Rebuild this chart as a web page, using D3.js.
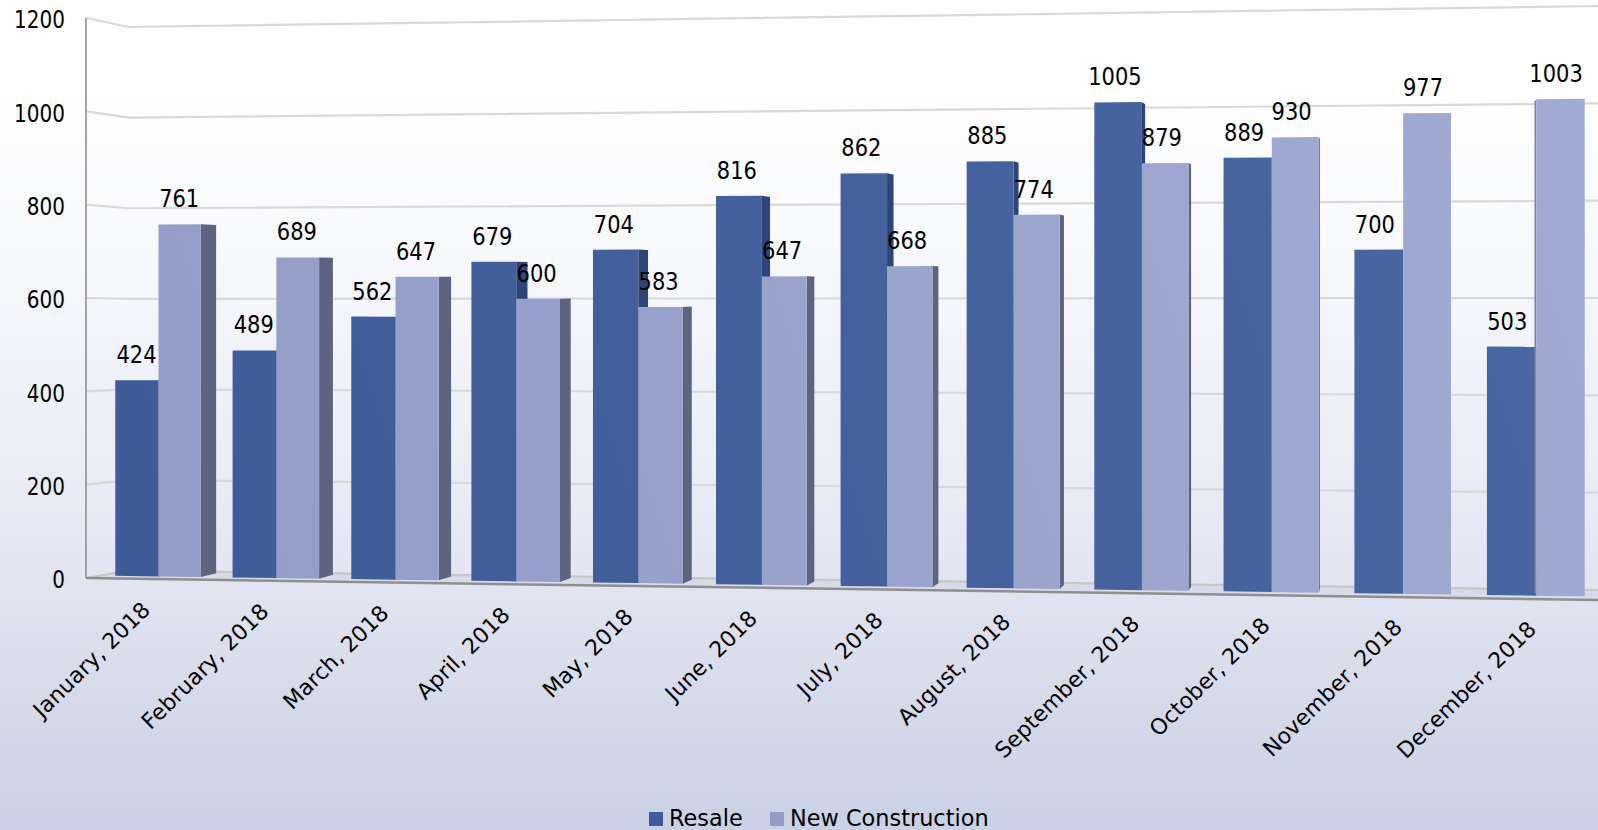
<!DOCTYPE html>
<html><head><meta charset="utf-8">
<style>html,body{margin:0;padding:0;background:#fff;overflow:hidden}svg{display:block}text{font-family:"DejaVu Sans",sans-serif;fill:#000}</style>
<script src="https://cdn.jsdelivr.net/npm/d3@7"></script>
</head><body><svg id="c" width="1598" height="830"></svg>
<script>
const months = ["January, 2018","February, 2018","March, 2018","April, 2018","May, 2018","June, 2018","July, 2018","August, 2018","September, 2018","October, 2018","November, 2018","December, 2018"];
const resale = [424,489,562,679,704,816,862,885,1005,889,700,503];
const newConstruction = [761,689,647,600,583,647,668,774,879,930,977,1003];
const yTicks = [0,200,400,600,800,1000,1200];
const seriesNames = ["Resale","New Construction"];

const W=1598,H=830, svg=d3.select("#c");
const defs=svg.append("defs");
function grad(id,stops,attrs){const g=defs.append("linearGradient").attr("id",id).attr("gradientUnits","userSpaceOnUse");
  Object.entries(attrs).forEach(([k,v])=>g.attr(k,v));
  stops.forEach(s=>g.append("stop").attr("offset",s[0]).attr("stop-color",s[1]));}
grad("bg",[[0,"#ffffff"],[.08,"#ffffff"],[.3,"#f8f9fc"],[.64,"#e6e9f5"],[.72,"#e0e3f0"],[.85,"#d5daea"],[1,"#c8d1e5"]],{x1:0,y1:0,x2:0,y2:H});
grad("g0",[[0,"#3e5a97"],[1,"#4b67a3"]],{x1:100,y1:600,x2:1600,y2:100});
grad("g1",[[0,"#929cc4"],[1,"#a1aad3"]],{x1:100,y1:600,x2:1600,y2:100});
svg.append("rect").attr("width",W).attr("height",H).attr("fill","url(#bg)");

// perspective: month position maps projectively to the screen
const slot=d=>115.3+116.6*d/(1-0.0059*d);
const base=d3.scaleLinear().domain([180,1560]).range([576.7,596]);
const unit=d3.scaleLinear().domain([180,1560]).range([.463,.4955]);
const py=(sx,v)=>base(sx)-unit(sx)*v;
const vp=[1390,280], depth=0.0129;
const back=p=>[p[0]+(vp[0]-p[0])*depth,p[1]+(vp[1]-p[1])*depth];
const line=d3.line();
const poly=pts=>line(pts)+"Z";

// walls
const yFront=d3.scaleLinear().domain([0,1200]).range([578,18]);
const yBackL=d3.scaleLinear().domain([0,1200]).range([570.7,27]);
const yBackR=d3.scaleLinear().domain([0,1200]).range([590,6]);
const cornerX=129;
svg.append("path").attr("d",poly([[86,578],[cornerX,yBackL(0)],[W,yBackR(0)],[W,600]])).attr("fill","#d7dbe9");
svg.selectAll(".grid").data(yTicks).join("path").attr("class","grid").attr("fill","none")
  .attr("stroke",d=>d===0?"#c6c8c6":"#d9d9d9").attr("stroke-width",2.2)
  .attr("d",d=>line([[86,yFront(d)],[cornerX,yBackL(d)],[W,yBackR(d)]]));
svg.append("line").attr("x1",86).attr("x2",86).attr("y1",yFront(1200)).attr("y2",yFront(0)).attr("stroke","#a3a3a3").attr("stroke-width",2);
svg.append("line").attr("x1",86).attr("x2",W).attr("y1",578).attr("y2",600).attr("stroke","#8f8f8f").attr("stroke-width",2.5);

// y axis
const ax=svg.append("g").attr("transform","translate(65,0)").call(d3.axisLeft(yFront).tickValues(yTicks).tickFormat(d3.format("d")).tickSize(0).tickPadding(0));
ax.select(".domain").remove();
ax.selectAll("text").attr("font-size",20).attr("x",0).attr("dy","0.37em").attr("transform","scale(1,1.27)");
ax.selectAll(".tick").attr("transform",d=>`translate(0,${yFront(d)+1})`);
ax.attr("font-family",null);

// bars
const series=[{vals:resale,a:0,b:.37,fill:"url(#g0)",side:"#2f4577",left:false},{vals:newConstruction,a:.37,b:.73,fill:"url(#g1)",side:"#5c6480",left:true}];
months.forEach((m,i)=>{
  series.forEach(s=>{
    const v=s.vals[i],xl=slot(i+s.a),xr=slot(i+s.b);
    const tl=[xl,py(xl,v)],tr=[xr,py(xr,v)],bl=[xl,py(xl,0)],br=[xr,py(xr,0)];
    if(xr<vp[0]) svg.append("path").attr("d",poly([tr,back(tr),back(br),br])).attr("fill",s.side);
    if(s.left&&xl>vp[0]) svg.append("path").attr("d",poly([tl,back(tl),back(bl),bl])).attr("fill","#7c84a4");
    svg.append("path").attr("d",poly([tl,tr,br,bl])).attr("fill",s.fill);
  });
});
// value labels
const shift=d3.scaleLinear().domain([180,1560]).range([-.5,-4.5]);
months.forEach((m,i)=>series.forEach(s=>{
  const v=s.vals[i],xl=slot(i+s.a),xr=slot(i+s.b),c=(xl+xr)/2;
  svg.append("text").attr("transform",`translate(${c+shift(c)},${py(c,v)-17}) scale(1,1.21)`)
    .attr("text-anchor","middle").attr("font-size",21).text(v);
}));
// month labels
const labShift=d3.scaleLinear().domain([157,1536]).range([-7,1]);
svg.selectAll(".m").data(months).join("text").attr("class","m").attr("text-anchor","end").attr("font-size",22)
  .attr("transform",(d,i)=>{const c=slot(i+.37);return `translate(${c+labShift(c)},${py(c,0)+35}) rotate(-44.5)`;}).text(d=>d);

// legend
const lg=[{x:649,tx:669,f:"#3f5b98"},{x:770,tx:790,f:"#929cc4"}];
seriesNames.forEach((n,i)=>{
  svg.append("rect").attr("x",lg[i].x).attr("y",812).attr("width",14).attr("height",14).attr("fill",lg[i].f);
  svg.append("text").attr("transform",`translate(${lg[i].tx},826) scale(1,1.06)`).attr("font-size",22.4).text(n);
});
</script></body></html>
